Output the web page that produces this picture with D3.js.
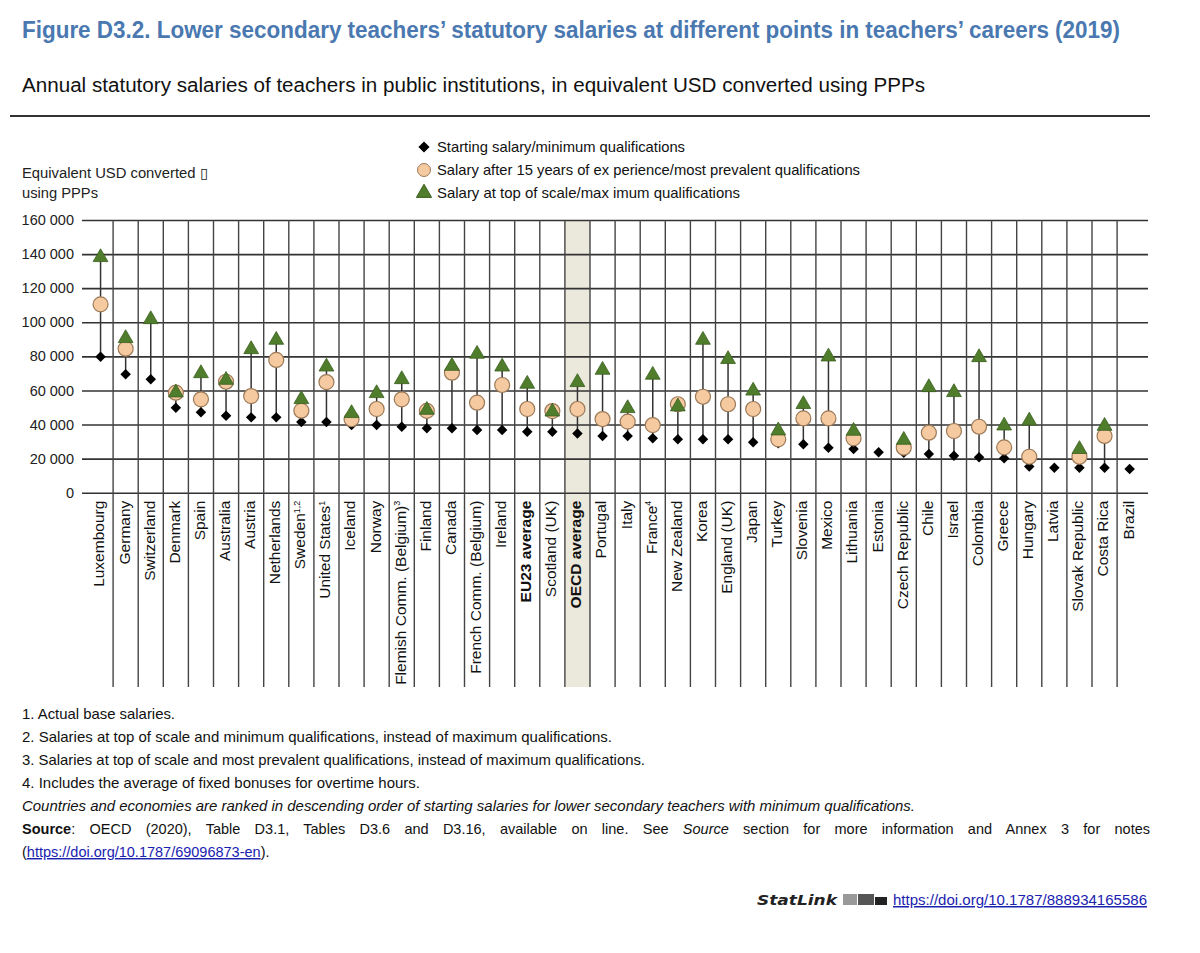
<!DOCTYPE html>
<html>
<head>
<meta charset="utf-8">
<script src="https://cdn.jsdelivr.net/npm/d3@7"></script>
<style>
  body { margin: 0; background: #fff; }
  text { font-family: "Liberation Sans Narrow", "Arial Narrow", "Liberation Sans", Arial, sans-serif; }
</style>
</head>
<body>
<div id="chart"></div>
<script>
// countries, ranked by starting salary
const countries = ["Luxembourg", "Germany", "Switzerland", "Denmark", "Spain", "Australia", "Austria",
  "Netherlands", "Sweden", "United States", "Iceland", "Norway", "Flemish Comm. (Belgium)", "Finland",
  "Canada", "French Comm. (Belgium)", "Ireland", "EU23 average", "Scotland (UK)", "OECD average",
  "Portugal", "Italy", "France", "New Zealand", "Korea", "England (UK)", "Japan", "Turkey", "Slovenia",
  "Mexico", "Lithuania", "Estonia", "Czech Republic", "Chile", "Israel", "Colombia", "Greece", "Hungary",
  "Latvia", "Slovak Republic", "Costa Rica", "Brazil"]
// footnote marks shown after the names
const noteMarks = { "Sweden": "1,2", "United States": "1", "Flemish Comm. (Belgium)": "3", "France": "4" }
const boldNames = ["EU23 average", "OECD average"]

const startSalary = [79800, 69500, 66500, 49900, 47200, 45200, 44200, 44200, 41500, 41500, 39700, 39700,
  38700, 37800, 37800, 36800, 36800, 35800, 35800, 34800, 33300, 33300, 31900, 31300, 31300, 31300, 29600,
  29000, 28400, 26400, 25600, 23700, 23400, 22700, 21700, 20800, 20200, 15300, 14700, 14700, 14700, 13900]
const salary15 = [110500, 84500, null, 58700, 54800, 65100, 56700, 77900, 48100, 64900, 43100, 49100,
  54800, 48000, 70400, 52800, 63200, 49100, 47900, 49100, 43200, 41700, 39700, 51900, 56300, 51900, 49100,
  31300, 43600, 43600, 31900, null, 26400, 35200, 36200, 38700, 26600, 21100, null, 21100, 33300, null]
const topSalary = [138100, 90600, 101700, 58700, 70000, 66100, 84100, 89600, 54800, 73900, 46600, 58300,
  66500, 48500, 74300, 81400, 73900, 63800, 47500, 64800, 72000, 49500, 69100, 50500, 89600, 78300, 59800,
  36400, 51900, 79800, 36200, null, 30900, 61800, 58900, 79400, 39300, 42200, null, 25500, 39100, null]

const yTicks = [0, 20000, 40000, 60000, 80000, 100000, 120000, 140000, 160000]

const legendItems = ["Starting salary/minimum qualifications",
  "Salary after 15 years of ex perience/most prevalent qualifications",
  "Salary at top of scale/max imum qualifications"]

const footnotes = ["1. Actual base salaries.",
  "2. Salaries at top of scale and minimum qualifications, instead of maximum qualifications.",
  "3. Salaries at top of scale and most prevalent qualifications, instead of maximum qualifications.",
  "4. Includes the average of fixed bonuses for overtime hours."]

const width = 1200, height = 953
const plot = { left: 82, right: 1148, top: 220, bottom: 492.7, bandLeft: 88, bandRight: 1142.2, labelBottom: 687 }
const triColor = "#4f7d2b", circColor = "#f6caa0"

const svg = d3.select("#chart").append("svg")
  .attr("width", width)
  .attr("height", height)

/**
 * Title block
 */
svg.append("text")
  .attr("x", 22).attr("y", 38)
  .attr("font-size", 23).attr("font-weight", "bold")
  .attr("fill", "#4a78b0")
  .attr("textLength", 1098).attr("lengthAdjust", "spacingAndGlyphs")
  .text("Figure D3.2. Lower secondary teachers\u2019 statutory salaries at different points in teachers\u2019 careers (2019)")

svg.append("text")
  .attr("x", 22).attr("y", 92)
  .attr("font-size", 20)
  .attr("fill", "#111")
  .attr("textLength", 903).attr("lengthAdjust", "spacingAndGlyphs")
  .text("Annual statutory salaries of teachers in public institutions, in equivalent USD converted using PPPs")

svg.append("line")
  .attr("x1", 10).attr("x2", 1150).attr("y1", 116).attr("y2", 116)
  .attr("stroke", "#333").attr("stroke-width", 2)

/**
 * Scales
 */
const x = d3.scaleBand()
  .domain(countries)
  .range([plot.bandLeft, plot.bandRight])
  .padding(0)
const y = d3.scaleLinear()
  .domain([0, 160000])
  .range([plot.bottom, plot.top])
const cx = c => x(c) + x.bandwidth() / 2

// OECD average highlight
svg.append("rect")
  .attr("x", x("OECD average")).attr("width", x.bandwidth())
  .attr("y", plot.top).attr("height", plot.labelBottom - plot.top)
  .attr("fill", "#ebe8dc")

/**
 * Grid + axis
 */
const fmt = v => d3.format(",")(v).replace(/,/g, " ")
const yAxis = svg.append("g")
  .attr("transform", `translate(${plot.left},0)`)
  .call(d3.axisLeft(y).tickValues(yTicks).tickFormat(fmt)
    .tickSizeInner(-(plot.right - plot.left)).tickSizeOuter(0).tickPadding(8))
yAxis.select(".domain").remove()
yAxis.selectAll(".tick line").attr("stroke", "#333").attr("stroke-width", 1.6)
yAxis.selectAll(".tick text")
  .attr("font-size", 14.5).attr("fill", "#222")
  .style("font-family", "'Liberation Sans Narrow', 'Arial Narrow', sans-serif")

svg.append("g").selectAll("line")
  .data(countries.slice(1))
  .enter().append("line")
  .attr("x1", d => x(d)).attr("x2", d => x(d))
  .attr("y1", plot.top).attr("y2", plot.labelBottom)
  .attr("stroke", "#444").attr("stroke-width", 1.4)

// y axis title
svg.append("text").attr("x", 22).attr("y", 178).attr("font-size", 14).attr("fill", "#222")
  .attr("textLength", 186).attr("lengthAdjust", "spacingAndGlyphs")
  .text("Equivalent USD converted \u25AF")
svg.append("text").attr("x", 22).attr("y", 198).attr("font-size", 14).attr("fill", "#222")
  .attr("textLength", 76).attr("lengthAdjust", "spacingAndGlyphs")
  .text("using PPPs")

/**
 * Category labels
 */
const labels = svg.append("g").selectAll("text")
  .data(countries)
  .enter().append("text")
  .attr("transform", d => `translate(${cx(d) - 1.5},${plot.bottom + 8}) rotate(-90)`)
  .attr("text-anchor", "end")
  .attr("dy", "0.35em")
  .attr("font-size", 15.5)
  .attr("font-weight", d => boldNames.includes(d) ? "bold" : "normal")
  .attr("fill", "#111")
labels.each(function (d) {
  const t = d3.select(this)
  if (noteMarks[d]) {
    t.append("tspan").text(d)
    t.append("tspan").attr("font-size", 9).attr("dy", "-0.6em").text(noteMarks[d])
  } else {
    t.text(d)
  }
})

/**
 * Marks
 */
const rows = countries.map((c, i) => ({ c, s: startSalary[i], m: salary15[i], t: topSalary[i] }))
const marks = svg.append("g")

marks.selectAll("line.rng")
  .data(rows.filter(d => d.t != null || d.m != null))
  .enter().append("line")
  .attr("class", "rng")
  .attr("x1", d => cx(d.c)).attr("x2", d => cx(d.c))
  .attr("y1", d => y(d.s)).attr("y2", d => y(Math.max(d.t || 0, d.m || 0)))
  .attr("stroke", "#333").attr("stroke-width", 1.5)

marks.selectAll("path.dia")
  .data(rows)
  .enter().append("path")
  .attr("class", "dia")
  .attr("d", d3.symbol(d3.symbolDiamond2, 70)())
  .attr("transform", d => `translate(${cx(d.c)},${y(d.s)})`)
  .attr("fill", "#000")

marks.selectAll("circle.mid")
  .data(rows.filter(d => d.m != null))
  .enter().append("circle")
  .attr("class", "mid")
  .attr("cx", d => cx(d.c)).attr("cy", d => y(d.m))
  .attr("r", 7.5)
  .attr("fill", circColor).attr("stroke", "#9c7a58").attr("stroke-width", 1.2)

marks.selectAll("path.tri")
  .data(rows.filter(d => d.t != null))
  .enter().append("path")
  .attr("class", "tri")
  .attr("d", d3.symbol(d3.symbolTriangle, 95)())
  .attr("transform", d => `translate(${cx(d.c)},${y(d.t)})`)
  .attr("fill", triColor).attr("stroke", "#3b5f1f").attr("stroke-width", 0.8)

/**
 * Legend
 */
const legend = svg.append("g").attr("transform", "translate(424,147)")
const legendWidths = [248, 423, 303]
legendItems.forEach((txt, i) => {
  const g = legend.append("g").attr("transform", `translate(0,${i * 23})`)
  if (i === 0) g.append("path").attr("d", d3.symbol(d3.symbolDiamond2, 80)()).attr("fill", "#000")
  if (i === 1) g.append("circle").attr("r", 6.5).attr("fill", circColor).attr("stroke", "#9c7a58")
  if (i === 2) g.append("path").attr("d", d3.symbol(d3.symbolTriangle, 100)()).attr("fill", triColor).attr("stroke", "#3b5f1f")
  g.append("text").attr("x", 13).attr("dy", "0.35em")
    .attr("font-size", 14.5).attr("fill", "#111")
    .attr("textLength", legendWidths[i]).attr("lengthAdjust", "spacingAndGlyphs")
    .text(txt)
})

/**
 * Notes
 */
const notes = svg.append("g").attr("font-size", 14.5).attr("fill", "#111")
const noteWidths = [153, 590, 623, 398]
footnotes.forEach((n, i) => {
  notes.append("text").attr("x", 22).attr("y", 719 + i * 23)
    .attr("textLength", noteWidths[i]).attr("lengthAdjust", "spacingAndGlyphs")
    .text(n)
})
notes.append("text").attr("x", 22).attr("y", 811).attr("font-style", "italic")
  .attr("textLength", 893).attr("lengthAdjust", "spacingAndGlyphs")
  .text("Countries and economies are ranked in descending order of starting salaries for lower secondary teachers with minimum qualifications.")

// source line is justified: spread the gap over the word spaces
const src = notes.append("text").attr("x", 22).attr("y", 834)
src.append("tspan").attr("font-weight", "bold").text("Source")
src.append("tspan").text(": OECD (2020), Table D3.1, Tables D3.6 and D3.16, available on line. See ")
src.append("tspan").attr("font-style", "italic").text("Source")
src.append("tspan").text(" section for more information and Annex 3 for notes")
const natural = src.node().getComputedTextLength()
const nSpaces = (src.text().match(/ /g) || []).length
src.attr("word-spacing", Math.max(0, (1128 - natural) / nSpaces))

const l2 = notes.append("text").attr("x", 22).attr("y", 857)
l2.append("tspan").text("(")
l2.append("tspan").attr("fill", "#1a22b0").attr("text-decoration", "underline").text("https://doi.org/10.1787/69096873-en")
l2.append("tspan").text(").")

// StatLink
const sl = svg.append("g").attr("transform", "translate(757,905)")
sl.append("text").attr("font-size", 14).attr("font-weight", "bold").attr("font-style", "italic")
  .style("font-family", "'DejaVu Sans', Verdana, sans-serif").attr("fill", "#222")
  .attr("textLength", 80).attr("lengthAdjust", "spacingAndGlyphs")
  .text("StatLink")
const logo = sl.append("g").attr("transform", "translate(86,-11)")
logo.append("rect").attr("width", 14).attr("height", 11).attr("fill", "#999")
logo.append("rect").attr("x", 15).attr("width", 16).attr("height", 11).attr("fill", "#555")
logo.append("rect").attr("x", 32).attr("y", 3).attr("width", 12).attr("height", 8).attr("fill", "#222")
sl.append("text").attr("x", 136).attr("font-size", 15)
  .attr("fill", "#1a22b0").attr("text-decoration", "underline")
  .attr("textLength", 254).attr("lengthAdjust", "spacingAndGlyphs")
  .text("https://doi.org/10.1787/888934165586")
</script>
</body>
</html>
